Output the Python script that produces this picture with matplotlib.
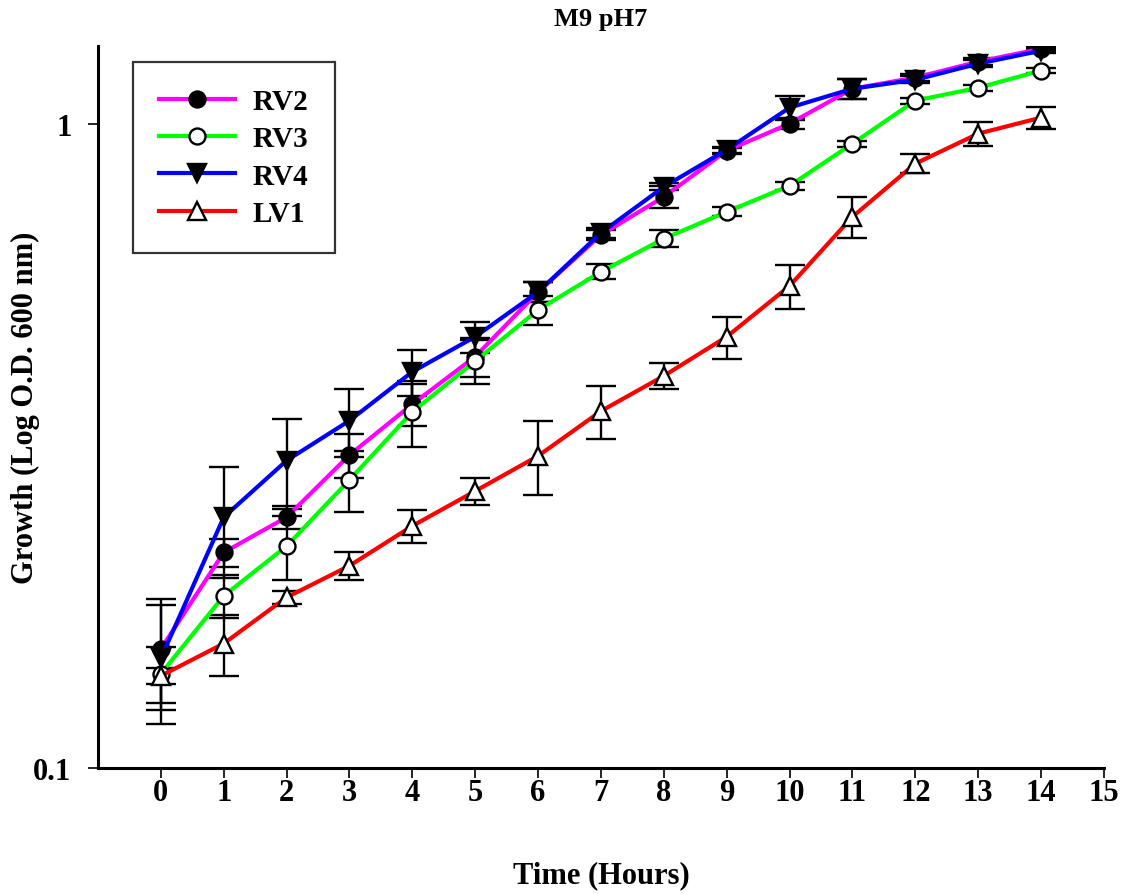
import numpy as np
import matplotlib
matplotlib.use('Agg')
import matplotlib.pyplot as plt
from matplotlib.ticker import NullLocator, FixedLocator, FixedFormatter

# time points (hours)
hours = list(range(15))

# mean OD600 readings
rv2 = [0.153, 0.216, 0.245, 0.306, 0.367, 0.435, 0.548, 0.672, 0.770, 0.908,
       1.000, 1.133, 1.179, 1.248, 1.307]
rv3 = [0.140, 0.185, 0.221, 0.280, 0.357, 0.428, 0.514, 0.589, 0.663, 0.730,
       0.801, 0.931, 1.086, 1.137, 1.209]
rv4 = [0.148, 0.245, 0.300, 0.346, 0.412, 0.467, 0.548, 0.677, 0.798, 0.911,
       1.059, 1.133, 1.170, 1.239, 1.298]
lv1 = [0.139, 0.156, 0.184, 0.206, 0.2375, 0.269, 0.305, 0.358, 0.406, 0.467,
       0.560, 0.717, 0.867, 0.965, 1.022]

# standard deviations
rv2_err = [0.030, 0.011, 0.010, 0.024, 0.028, 0.030, 0.020, 0.013, 0.030, 0.010,
           0.020, 0.040, 0.015, 0.015, 0.010]
rv3_err = [0.014, 0.014, 0.025, 0.030, 0.042, 0.034, 0.027, 0.016, 0.020, 0.012,
           0.012, 0.010, 0.012, 0.012, 0.010]
rv4_err = [0.031, 0.048, 0.048, 0.042, 0.034, 0.026, 0.020, 0.013, 0.010, 0.010,
           0.045, 0.040, 0.015, 0.015, 0.010]
lv1_err = [0.004, 0.017, 0.004, 0.010, 0.014, 0.013, 0.040, 0.034, 0.019, 0.035,
           0.044, 0.052, 0.030, 0.042, 0.040]

names = ['RV2', 'RV3', 'RV4', 'LV1']
series = [rv2, rv3, rv4, lv1]
errs = [rv2_err, rv3_err, rv4_err, lv1_err]
colours = ['#ff00ff', '#00ff00', '#0000ff', '#ff0000']
markers = ['o', 'o', 'v', '^']
facecols = ['black', 'white', 'black', 'white']
msizes = [11.5, 11.5, 12.5, 13.5]

plt.rcParams['font.family'] = ['Liberation Serif', 'DejaVu Serif']
plt.rcParams['font.weight'] = 'bold'

fig = plt.figure(figsize=(11.34, 8.95), dpi=100)
ax = fig.add_axes([0.0864, 0.1408, 0.8871, 0.8067])

for i in range(len(series)):
    ax.errorbar(hours, series[i], yerr=errs[i], fmt='none', ecolor='black',
                elinewidth=1.7, capsize=11, capthick=1.7, zorder=2)
for i in range(len(series)):
    ax.plot(hours, series[i], color=colours[i], lw=3, marker=markers[i],
            ms=msizes[i], mfc=facecols[i], mec='black', mew=1.7,
            label=names[i], zorder=3 + i * 0.1)

ax.set_yscale('log')
ax.set_ylim(0.1, 1.32)
ax.set_xlim(-1, 15)
ax.yaxis.set_major_locator(FixedLocator([0.1, 1]))
ax.yaxis.set_major_formatter(FixedFormatter(['0.1', '1']))
ax.yaxis.set_minor_locator(NullLocator())
ax.set_xticks(range(16))

for s in ['top', 'right']:
    ax.spines[s].set_visible(False)
for s in ['left', 'bottom']:
    ax.spines[s].set_linewidth(2.2)

ax.tick_params(axis='x', direction='out', length=7, width=1.2, pad=0, labelsize=22)
ax.tick_params(axis='y', direction='out', length=7, width=1.2, pad=12, labelsize=22)

ax.set_xlabel('Time (Hours)', fontsize=22, fontweight='bold')
ax.set_ylabel('Growth (Log O.D. 600 nm)', fontsize=22, fontweight='bold')
ax.xaxis.set_label_coords(0.5, -0.128)
ax.yaxis.set_label_coords(-0.058, 0.5)
ax.set_title('M9 pH7', fontsize=19, fontweight='bold', pad=15)

leg = ax.legend(loc='upper left', bbox_to_anchor=(0.035, 0.978), fontsize=21,
                frameon=True, fancybox=False, edgecolor='black', handlelength=2.6,
                borderpad=0.9, labelspacing=0.35, handletextpad=0.6,
                borderaxespad=0)
leg.get_frame().set_linewidth(1.6)

fig.savefig('out.png', dpi=100)
